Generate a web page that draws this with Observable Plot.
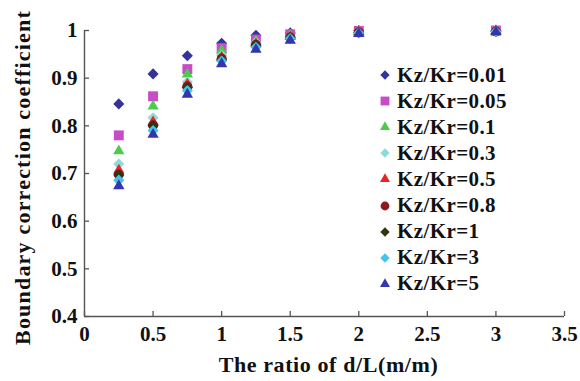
<!DOCTYPE html>
<html><head><meta charset="utf-8">
<script src="https://cdn.jsdelivr.net/npm/d3@7"></script>
<script src="https://cdn.jsdelivr.net/npm/@observablehq/plot@0.6"></script>
<style>
body{margin:0;background:#fff;}
#wrap{position:relative;width:580px;height:381px;overflow:hidden;}
.leg{position:absolute;left:379px;height:26px;display:flex;align-items:center;font:bold 21px "Liberation Serif",serif;color:#111;letter-spacing:0.4px;white-space:nowrap;}
.leg svg{margin-right:6px;}
</style></head><body><div id="wrap"></div>
<script>
// d/L ratios
const ratios = [0.25, 0.5, 0.75, 1, 1.25, 1.5, 2, 3];
const seriesNames = ["Kz/Kr=0.01","Kz/Kr=0.05","Kz/Kr=0.1","Kz/Kr=0.3","Kz/Kr=0.5","Kz/Kr=0.8","Kz/Kr=1","Kz/Kr=3","Kz/Kr=5"];
// boundary correction coefficient values per series
const k001 = [0.846, 0.909, 0.947, 0.973, 0.990, 0.995, 1.000, 1.000];
const k005 = [0.780, 0.862, 0.919, 0.963, 0.981, 0.992, 0.999, 1.000];
const k01  = [0.747, 0.841, 0.908, 0.958, 0.978, 0.990, 0.998, 0.999];
const k03  = [0.720, 0.817, 0.892, 0.948, 0.975, 0.988, 0.997, 0.999];
const k05  = [0.707, 0.808, 0.887, 0.944, 0.972, 0.987, 0.997, 0.999];
const k08  = [0.698, 0.801, 0.883, 0.941, 0.970, 0.986, 0.996, 0.998];
const k1   = [0.697, 0.800, 0.880, 0.938, 0.969, 0.985, 0.996, 0.998];
const k3   = [0.686, 0.790, 0.874, 0.936, 0.965, 0.983, 0.995, 0.998];
const k5   = [0.674, 0.782, 0.866, 0.930, 0.960, 0.979, 0.993, 0.997];
const seriesValues = [k001, k005, k01, k03, k05, k08, k1, k3, k5];
const colors = ["#333399","#c84cc8","#4ccc4c","#8cdcdc","#ee2222","#8c1c1c","#333311","#44c4ec","#3535ad"];
const symbols = ["diamond2","square","triangle","diamond2","triangle","circle","diamond2","diamond2","triangle"];
const radii = {diamond2: 5, square: 5.6, triangle: 4.2, circle: 5};
const xTicks = [0, 0.5, 1, 1.5, 2, 2.5, 3, 3.5];
const yTicks = [0.4, 0.5, 0.6, 0.7, 0.8, 0.9, 1];
const xTitle = "The ratio of d/L(m/m)";
const yTitle = "Boundary correction coefficient";

const font = '"Liberation Serif", "Times New Roman", serif';
const axisColor = "#555";

const dotMarks = seriesValues.map((vals, s) => {
  const rows = ratios.map((x, i) => ({x, y: vals[i]}));
  return Plot.dot(rows, {x: "x", y: "y", symbol: () => symbols[s], fill: colors[s], stroke: "none", r: radii[symbols[s]]});
});

const chart = Plot.plot({
  width: 580,
  height: 381,
  marginLeft: 84,
  marginRight: 16,
  marginTop: 30,
  marginBottom: 65,
  style: {fontFamily: font, fontWeight: "bold", fontSize: "21px", color: "#111", background: "#fff"},
  symbol: {type: "identity"},
  x: {domain: [0, 3.5]},
  y: {domain: [0.4, 1]},
  marks: [
    Plot.axisX(xTicks, {tickSize: 0, tickPadding: 10, tickFormat: d => String(d), label: null, fontSize: 21, fontWeight: "bold"}),
    Plot.axisX(xTicks, {tickSize: -5, tickFormat: () => "", label: null, stroke: axisColor, strokeWidth: 1.3}),
    Plot.axisY(yTicks, {tickSize: 0, tickPadding: 7, tickFormat: d => String(d), label: null, fontSize: 21, fontWeight: "bold"}),
    Plot.axisY(yTicks, {tickSize: -5, tickFormat: () => "", label: null, stroke: axisColor, strokeWidth: 1.3}),
    Plot.ruleX([0], {stroke: axisColor, strokeWidth: 1.4}),
    Plot.ruleY([0.4], {stroke: axisColor, strokeWidth: 1.4}),
    ...dotMarks,
    Plot.text([xTitle], {frameAnchor: "bottom", textAnchor: "middle", dx: 4, dy: 48, lineAnchor: "middle", fontSize: 22, fontWeight: "bold", fill: "#111"}),
    Plot.text([yTitle], {frameAnchor: "left", textAnchor: "middle", dx: -62, dy: 4, rotate: -90, lineAnchor: "middle", fontSize: 22, fontWeight: "bold", fill: "#111"})
  ]
});
chart.querySelectorAll("text").forEach(t => {
  if (t.textContent === xTitle) t.setAttribute("letter-spacing", "0.6");
  if (t.textContent === yTitle) t.setAttribute("letter-spacing", "1.2");
});
const wrap = document.getElementById("wrap");
wrap.appendChild(chart);

// legend
const symbolMap = {diamond2: d3.symbolDiamond2, square: d3.symbolSquare, triangle: d3.symbolTriangle, circle: d3.symbolCircle};
const legendSize = {diamond2: 4.2, square: 5, triangle: 3.7, circle: 4.4};
seriesNames.forEach((name, i) => {
  const item = document.createElement("div");
  item.className = "leg";
  item.style.top = (62 + i * 26.1) + "px";
  const r = legendSize[symbols[i]];
  const path = d3.symbol(symbolMap[symbols[i]], Math.PI * r * r)();
  item.innerHTML = `<svg width="12" height="12" viewBox="-6 -6 12 12"><path d="${path}" fill="${colors[i]}"/></svg><span>${name}</span>`;
  wrap.appendChild(item);
});
</script></body></html>
